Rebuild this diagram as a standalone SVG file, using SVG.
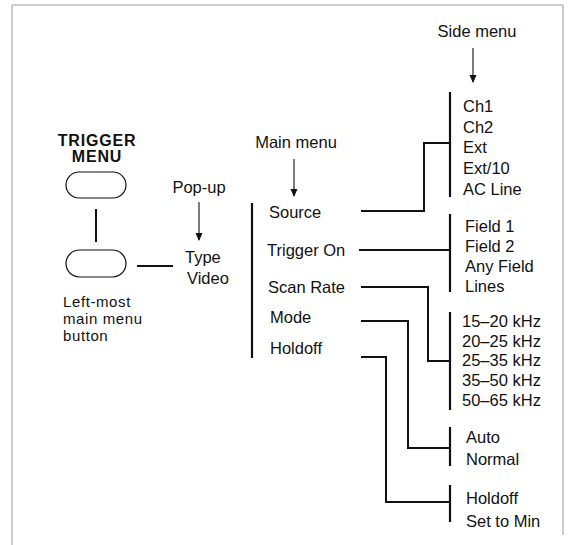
<svg xmlns="http://www.w3.org/2000/svg" width="568" height="545" viewBox="0 0 568 545">
<defs>
<marker id="ah" markerWidth="8" markerHeight="11" refX="7" refY="5.5" orient="auto" markerUnits="userSpaceOnUse">
<path d="M0,2 L8,5.5 L0,9 Z" fill="#111"/>
</marker>
</defs>
<style>
text{font-family:"Liberation Sans",Arial,sans-serif;font-size:16.5px;fill:#111}
.b{font-weight:bold;font-size:16px;letter-spacing:0.8px}
.s{font-size:15px;letter-spacing:0.6px}
.c{text-anchor:middle}
.bar{stroke:#111;stroke-width:2.2;fill:none}
.conn{stroke:#111;stroke-width:2;fill:none}
.arr{stroke:#111;stroke-width:1.1;fill:none}
.btn{fill:#fff;stroke:#111;stroke-width:1.2}
</style>
<rect width="568" height="545" fill="#fff"/>
<path d="M12,545 V5 H563 V535" fill="none" stroke="#999" stroke-width="1"/>

<g id="trigger-menu">
<text class="b c" x="97" y="146">TRIGGER</text>
<text class="b c" x="97" y="162">MENU</text>
<rect class="btn" x="66" y="172" width="60" height="26" rx="13"/>
</g>
<g id="leftmost-button">
<rect class="btn" x="66" y="250" width="60" height="27" rx="13.5"/>
<text class="s" x="63" y="307">Left-most</text>
<text class="s" x="63" y="324">main menu</text>
<text class="s" x="63" y="341">button</text>
</g>
<g id="popup-label">
<text class="c" x="199" y="193">Pop-up</text>
</g>
<g id="popup">
<text x="185" y="263">Type</text>
<text x="187" y="284">Video</text>
</g>
<g id="main-menu-label">
<text class="c" x="296" y="148">Main menu</text>
</g>
<g id="main-menu">
<path class="bar" d="M252,203 V358"/>
<text x="269" y="218">Source</text>
<text x="267" y="256">Trigger On</text>
<text x="268" y="293">Scan Rate</text>
<text x="270" y="323">Mode</text>
<text x="270" y="354">Holdoff</text>
</g>
<g id="side-menu-label">
<text class="c" x="477" y="37">Side menu</text>
</g>
<g id="side-source">
<path class="bar" d="M450,92 V197"/>
<text x="463" y="112">Ch1</text>
<text x="463" y="133">Ch2</text>
<text x="463" y="153">Ext</text>
<text x="463" y="174">Ext/10</text>
<text x="463" y="195">AC Line</text>
</g>
<g id="side-trigger-on">
<path class="bar" d="M450,214 V292"/>
<text x="465" y="232">Field 1</text>
<text x="465" y="252">Field 2</text>
<text x="465" y="272">Any Field</text>
<text x="465" y="292">Lines</text>
</g>
<g id="side-scan-rate">
<path class="bar" d="M450,312 V410"/>
<text x="462" y="327">15–20 kHz</text>
<text x="462" y="347">20–25 kHz</text>
<text x="462" y="366">25–35 kHz</text>
<text x="462" y="386">35–50 kHz</text>
<text x="462" y="406">50–65 kHz</text>
</g>
<g id="side-mode">
<path class="bar" d="M450,427 V466"/>
<text x="466" y="443">Auto</text>
<text x="466" y="465">Normal</text>
</g>
<g id="side-holdoff">
<path class="bar" d="M450,485 V522"/>
<text x="466" y="504">Holdoff</text>
<text x="466" y="527">Set to Min</text>
</g>

<g id="connectors">
<path class="conn" d="M96,209 V242"/>
<path class="conn" d="M137,266 H173"/>
<path class="conn" d="M361,211 H424 V143 H450"/>
<path class="conn" d="M359,250 H450"/>
<path class="conn" d="M361,287 H428 V361 H450"/>
<path class="conn" d="M361,321 H408 V448 H450"/>
<path class="conn" d="M361,357 H386 V502 H450"/>
<path class="arr" d="M199,202 V240" marker-end="url(#ah)"/>
<path class="arr" d="M294,159 V196" marker-end="url(#ah)"/>
<path class="arr" d="M473,48 V82" marker-end="url(#ah)"/>
</g>
</svg>
